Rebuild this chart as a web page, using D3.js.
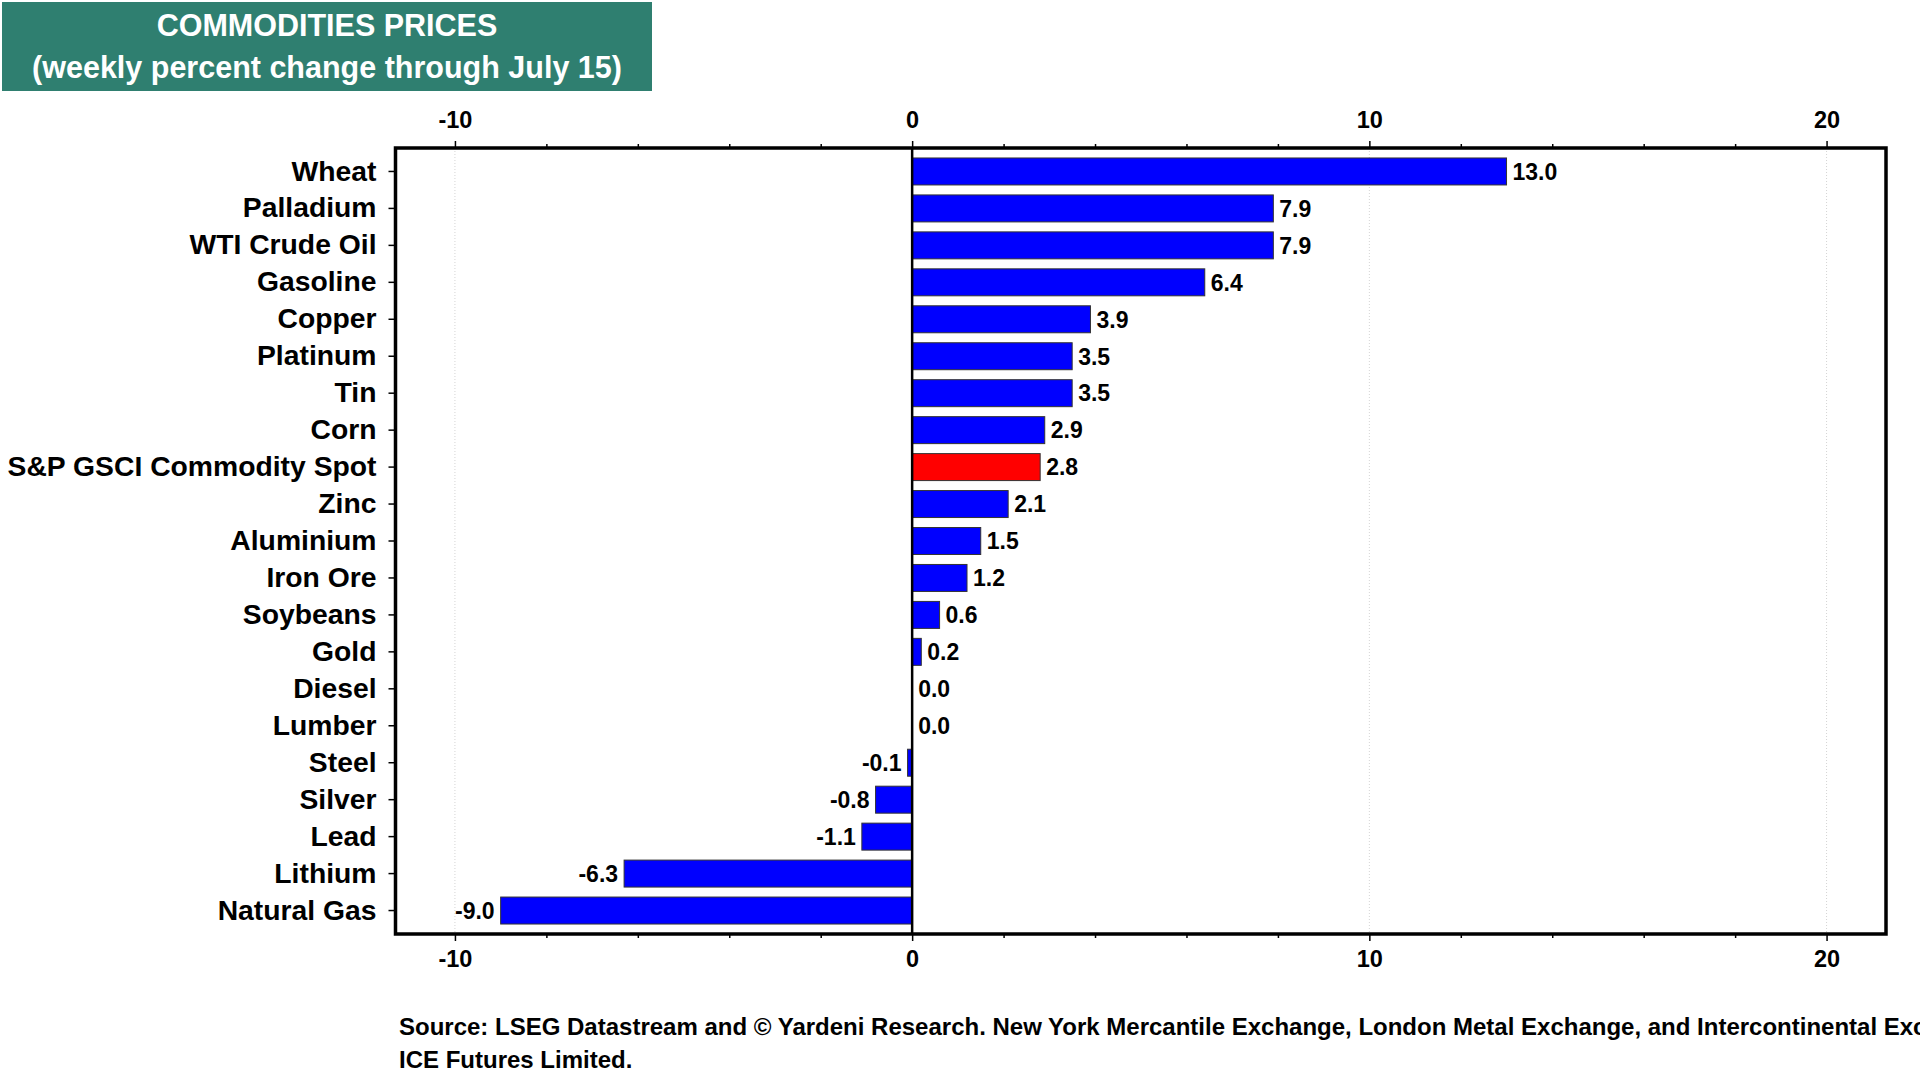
<!DOCTYPE html>
<html>
<head>
<meta charset="utf-8">
<script src="https://d3js.org/d3.v7.min.js"></script>
<style>
  body { margin: 0; background: #fff; }
  svg { display: block; font-family: "Liberation Sans", Arial, sans-serif; font-weight: bold; }
</style>
</head>
<body>
<svg id="chart" width="1920" height="1080"></svg>
<script>
'use strict';

// data (top to bottom)
const categories = ["Wheat", "Palladium", "WTI Crude Oil", "Gasoline", "Copper", "Platinum", "Tin", "Corn",
  "S&P GSCI Commodity Spot", "Zinc", "Aluminium", "Iron Ore", "Soybeans", "Gold", "Diesel", "Lumber",
  "Steel", "Silver", "Lead", "Lithium", "Natural Gas"];
const values = [13.0, 7.9, 7.9, 6.4, 3.9, 3.5, 3.5, 2.9, 2.8, 2.1, 1.5, 1.2, 0.6, 0.2, 0.0, 0.0,
  -0.1, -0.8, -1.1, -6.3, -9.0];
const highlight = "S&P GSCI Commodity Spot";
const majorTicks = [-10, 0, 10, 20];
const minorTicks = [-8, -6, -4, -2, 2, 4, 6, 8, 12, 14, 16, 18];
const titleLines = ["COMMODITIES PRICES", "(weekly percent change through July 15)"];
const sourceLines = ["Source: LSEG Datastream and \u00A9 Yardeni Research. New York Mercantile Exchange, London Metal Exchange, and Intercontinental Exchange",
  "ICE Futures Limited."];

let svg = d3.select("#chart");

// plot frame
let frame = {left: 395.5, right: 1886, top: 148, bottom: 934};

let x = d3.scaleLinear()
  .domain([-11.3, 21.3])
  .range([frame.left, frame.right]);

let y = d3.scaleBand()
  .domain(categories)
  .range([frame.top, frame.bottom])
  .paddingInner(0.27)
  .paddingOuter(0.27);

let rows = categories.map(function (c, i) { return {name: c, value: values[i]}; });

// plain hyphen for negatives, like the original
let fmtInt = function (d) { return String(d); };
let fmtVal = function (d) { return d3.format(".1f")(d).replace("\u2212", "-"); };

// --- title box
svg.append("rect")
  .attr("x", 2).attr("y", 2)
  .attr("width", 650).attr("height", 89)
  .attr("fill", "#2F7F70");

svg.selectAll("text.title")
  .data(titleLines)
  .enter().append("text")
  .attr("class", "title")
  .attr("x", 327)
  .attr("y", function (d, i) { return 25 + i * 42; })
  .attr("dy", "0.36em")
  .attr("text-anchor", "middle")
  .attr("fill", "#fff")
  .style("font-size", "30.5px")
  .text(function (d) { return d; });

// faint gridlines at the major ticks (zero gets its own line)
svg.append("g")
  .selectAll("line")
  .data(majorTicks.filter(function (d) { return d !== 0; }))
  .enter().append("line")
  .attr("x1", function (d) { return x(d); })
  .attr("x2", function (d) { return x(d); })
  .attr("y1", frame.top).attr("y2", frame.bottom)
  .attr("stroke", "#d4d4d4")
  .attr("stroke-width", 1)
  .attr("stroke-dasharray", "1,2");

// bars
svg.append("g")
  .selectAll("rect")
  .data(rows)
  .enter().append("rect")
  .attr("x", function (d) { return x(Math.min(0, d.value)); })
  .attr("y", function (d) { return y(d.name); })
  .attr("width", function (d) { return Math.abs(x(d.value) - x(0)); })
  .attr("height", y.bandwidth())
  .attr("fill", function (d) { return d.name === highlight ? "#FF0000" : "#0000FF"; })
  .attr("stroke", "#333")
  .attr("stroke-width", 1);

// zero line
svg.append("line")
  .attr("x1", x(0)).attr("x2", x(0))
  .attr("y1", frame.top).attr("y2", frame.bottom)
  .attr("stroke", "#000")
  .attr("stroke-width", 2.5);

// value labels
svg.append("g")
  .selectAll("text")
  .data(rows)
  .enter().append("text")
  .attr("x", function (d) { return d.value < 0 ? x(d.value) - 6 : x(d.value) + 6; })
  .attr("y", function (d) { return y(d.name) + y.bandwidth() / 2; })
  .attr("dy", "0.36em")
  .attr("text-anchor", function (d) { return d.value < 0 ? "end" : "start"; })
  .style("font-size", "23px")
  .text(function (d) { return fmtVal(d.value); });

// axes
let styleAxis = function (g, size) {
  g.select(".domain").remove();
  g.selectAll("line").attr("stroke", "#000").attr("stroke-width", 1.5);
  g.selectAll("text").style("font-size", size).style("font-weight", "bold")
    .attr("font-family", "Liberation Sans, Arial, sans-serif").attr("fill", "#000");
};

svg.append("g")
  .attr("transform", "translate(0," + frame.top + ")")
  .call(d3.axisTop(x).tickValues(majorTicks).tickSize(7).tickPadding(13).tickFormat(fmtInt))
  .call(styleAxis, "23.5px");
svg.append("g")
  .attr("transform", "translate(0," + frame.top + ")")
  .call(d3.axisTop(x).tickValues(minorTicks).tickSize(4).tickFormat(""))
  .call(styleAxis, "23.5px");

svg.append("g")
  .attr("transform", "translate(0," + frame.bottom + ")")
  .call(d3.axisBottom(x).tickValues(majorTicks).tickSize(7).tickPadding(9).tickFormat(fmtInt))
  .call(styleAxis, "23.5px");
svg.append("g")
  .attr("transform", "translate(0," + frame.bottom + ")")
  .call(d3.axisBottom(x).tickValues(minorTicks).tickSize(4).tickFormat(""))
  .call(styleAxis, "23.5px");

svg.append("g")
  .attr("transform", "translate(" + frame.left + ",0)")
  .call(d3.axisLeft(y).tickSize(7).tickPadding(12))
  .call(styleAxis, "28.3px");

// frame on top
svg.append("rect")
  .attr("x", frame.left).attr("y", frame.top)
  .attr("width", frame.right - frame.left)
  .attr("height", frame.bottom - frame.top)
  .attr("fill", "none")
  .attr("stroke", "#000")
  .attr("stroke-width", 3.5);

// source note
svg.selectAll("text.source")
  .data(sourceLines)
  .enter().append("text")
  .attr("class", "source")
  .attr("x", 399)
  .attr("y", function (d, i) { return 1026 + i * 33; })
  .attr("dy", "0.36em")
  .style("font-size", "24px")
  .text(function (d) { return d; });
</script>
</body>
</html>
